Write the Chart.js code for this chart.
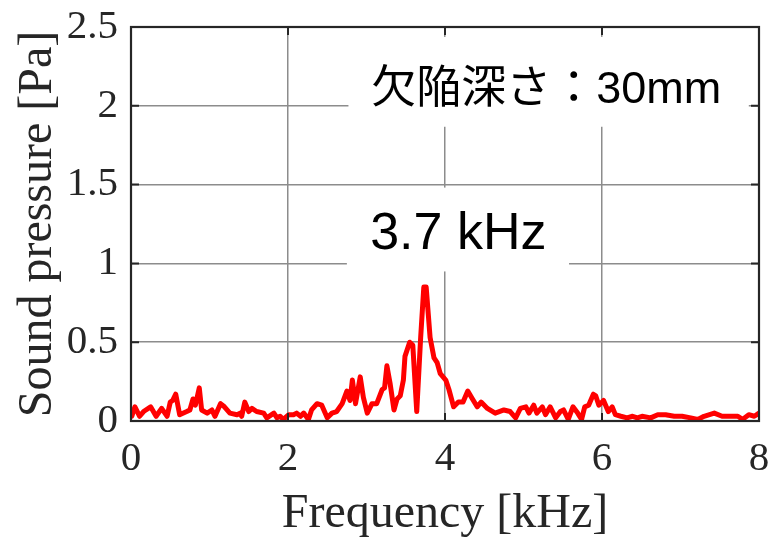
<!DOCTYPE html>
<html>
<head>
<meta charset="utf-8">
<script src="https://cdn.jsdelivr.net/npm/chart.js@4.4.1/dist/chart.umd.min.js"></script>
<style>
  html, body { margin: 0; padding: 0; background: #ffffff; }
  #wrap { width: 769px; height: 538px; }
</style>
</head>
<body>
<div id="wrap"><canvas id="c" width="769" height="538"></canvas></div>
<script>
// ---- data ----
const freqs = [0.01,0.05,0.11,0.16,0.25,0.32,0.39,0.46,0.50,0.53,
  0.57,0.62,0.71,0.75,0.79,0.82,0.87,0.90,0.97,1.03,
  1.07,1.14,1.19,1.26,1.35,1.39,1.41,1.45,1.50,1.54,
  1.60,1.69,1.73,1.82,1.86,1.90,1.94,2.01,2.07,2.11,
  2.16,2.20,2.26,2.30,2.37,2.43,2.50,2.56,2.62,2.69,
  2.75,2.79,2.82,2.86,2.92,2.96,3.01,3.07,3.13,3.20,
  3.23,3.26,3.30,3.35,3.39,3.43,3.47,3.49,3.55,3.59,
  3.64,3.69,3.73,3.76,3.81,3.86,3.90,3.94,4.01,4.05,
  4.11,4.17,4.23,4.29,4.35,4.41,4.46,4.54,4.64,4.75,
  4.83,4.90,4.96,5.03,5.07,5.13,5.17,5.24,5.28,5.34,
  5.41,5.47,5.51,5.57,5.63,5.69,5.74,5.78,5.83,5.89,
  5.92,5.96,6.02,6.08,6.13,6.17,6.24,6.32,6.39,6.45,
  6.51,6.62,6.71,6.81,6.92,7.02,7.13,7.22,7.30,7.43,
  7.53,7.64,7.73,7.79,7.87,7.94,8.00];
const pressure = [0.03,0.09,0.03,0.06,0.09,0.03,0.08,0.03,0.12,0.13,
  0.17,0.04,0.06,0.07,0.14,0.10,0.21,0.07,0.05,0.07,
  0.03,0.11,0.09,0.05,0.04,0.05,0.03,0.12,0.06,0.08,
  0.06,0.05,0.02,0.05,0.02,0.03,0.01,0.04,0.04,0.05,
  0.03,0.05,0.01,0.07,0.11,0.10,0.02,0.05,0.06,0.11,
  0.19,0.13,0.26,0.11,0.28,0.15,0.05,0.11,0.11,0.20,
  0.21,0.35,0.24,0.07,0.14,0.16,0.26,0.41,0.50,0.48,
  0.06,0.53,0.85,0.85,0.53,0.40,0.37,0.30,0.26,0.20,
  0.09,0.12,0.12,0.19,0.14,0.09,0.12,0.08,0.05,0.07,
  0.06,0.02,0.08,0.09,0.05,0.10,0.05,0.09,0.04,0.09,
  0.02,0.06,0.07,0.01,0.09,0.05,0.01,0.09,0.10,0.17,
  0.16,0.10,0.13,0.06,0.09,0.04,0.03,0.02,0.03,0.02,
  0.03,0.02,0.04,0.04,0.03,0.03,0.02,0.01,0.03,0.05,
  0.03,0.03,0.03,0.01,0.04,0.03,0.05];
const xTicks = [0, 2, 4, 6, 8];
const yTicks = [0, 0.5, 1, 1.5, 2, 2.5];
const xTitle = 'Frequency [kHz]';
const yTitle = 'Sound pressure [Pa]';
const depthLabel = '欠陥深さ：30mm';
const peakLabel = '3.7 kHz';

// ---- styling / layout ----
const INK = '#262626';
const GRID = '#8c8c8c';
const SERIF = "'Liberation Serif', 'Times New Roman', serif";
const SANS = "'Liberation Sans', Arial, 'Noto Sans CJK JP', sans-serif";

// annotation boxes, in data units (position only)
const notes = [
  { text: depthLabel, font: '45px ' + SANS, align: 'left', tx: 3.06, ty: 2.019,
    box: [2.77, 7.87, 2.437, 1.867] },
  { text: peakLabel, font: '52px ' + SANS, align: 'center', tx: 4.17, ty: 1.089,
    box: [2.75, 5.58, 1.481, 0.949] }
];

const overlay = {
  id: 'overlay',
  beforeDatasetsDraw(chart) {
    const { ctx, scales: { x, y } } = chart;
    ctx.save();
    notes.forEach(n => {
      const x0 = x.getPixelForValue(n.box[0]), x1 = x.getPixelForValue(n.box[1]);
      const y0 = y.getPixelForValue(n.box[2]), y1 = y.getPixelForValue(n.box[3]);
      ctx.fillStyle = '#ffffff';
      ctx.fillRect(x0, y0, x1 - x0, y1 - y0);
      ctx.fillStyle = '#000000';
      ctx.font = n.font;
      ctx.textAlign = n.align;
      ctx.textBaseline = 'alphabetic';
      ctx.fillText(n.text, x.getPixelForValue(n.tx), y.getPixelForValue(n.ty));
    });
    ctx.restore();
  },
  afterDatasetsDraw(chart) {
    const { ctx, chartArea: a, scales: { x, y } } = chart;
    ctx.save();
    ctx.strokeStyle = INK;
    ctx.lineWidth = 2;
    const L = 8;
    ctx.beginPath();
    xTicks.forEach(v => {
      const px = x.getPixelForValue(v);
      ctx.moveTo(px, a.bottom); ctx.lineTo(px, a.bottom - L);
      ctx.moveTo(px, a.top); ctx.lineTo(px, a.top + L);
    });
    yTicks.forEach(v => {
      const py = y.getPixelForValue(v);
      ctx.moveTo(a.left, py); ctx.lineTo(a.left + L, py);
      ctx.moveTo(a.right, py); ctx.lineTo(a.right - L, py);
    });
    ctx.stroke();
    ctx.lineWidth = 2.2;
    ctx.strokeRect(a.left, a.top, a.right - a.left, a.bottom - a.top);
    ctx.restore();
  }
};

new Chart(document.getElementById('c'), {
  type: 'line',
  data: {
    datasets: [{
      data: freqs.map((f, i) => ({ x: f, y: pressure[i] })),
      borderColor: '#ff0000',
      borderWidth: 5,
      pointRadius: 0,
      tension: 0,
      fill: false,
      borderJoinStyle: 'round',
      borderCapStyle: 'round'
    }]
  },
  plugins: [overlay],
  options: {
    responsive: false,
    animation: false,
    layout: { padding: { top: 27, right: 10, left: 0, bottom: 0 } },
    plugins: { legend: { display: false }, tooltip: { enabled: false } },
    scales: {
      x: {
        type: 'linear', min: 0, max: 8,
        afterBuildTicks: s => { s.ticks = xTicks.map(v => ({ value: v })); },
        afterFit: s => { s.height = 117; s.paddingLeft = 0; s.paddingRight = 0; },
        grid: { color: GRID, lineWidth: 1.5, drawTicks: false },
        border: { display: false },
        ticks: { font: { family: SERIF, size: 41 }, color: INK, padding: 14,
                 maxRotation: 0, autoSkip: false, callback: v => String(v) },
        title: { display: true, text: xTitle, color: INK,
                 font: { family: SERIF, size: 48 }, padding: { top: 0, bottom: -5 } }
      },
      y: {
        type: 'linear', min: 0, max: 2.5,
        afterBuildTicks: s => { s.ticks = yTicks.map(v => ({ value: v })); },
        afterFit: s => { s.width = 131; s.paddingTop = 0; s.paddingBottom = 0; },
        grid: { color: GRID, lineWidth: 1.5, drawTicks: false },
        border: { display: false },
        ticks: { font: { family: SERIF, size: 41 }, color: INK, padding: 13,
                 autoSkip: false, callback: v => String(v) },
        title: { display: true, text: yTitle, color: INK,
                 font: { family: SERIF, size: 48 }, padding: { top: 10, bottom: 0 } }
      }
    }
  }
});
</script>
</body>
</html>
